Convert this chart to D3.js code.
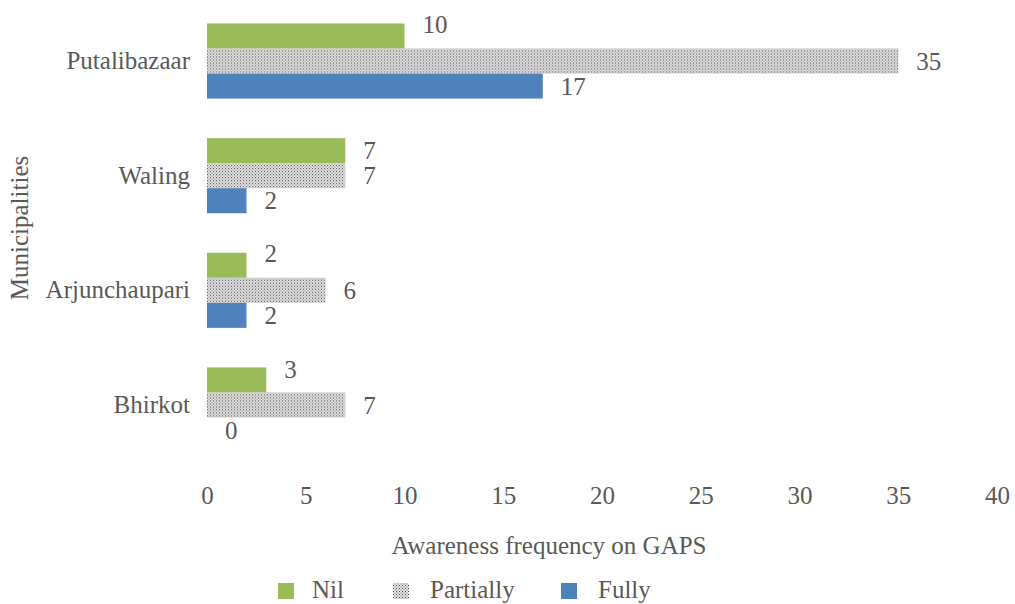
<!DOCTYPE html>
<html>
<head>
<meta charset="utf-8">
<script src="https://cdn.jsdelivr.net/npm/d3@7"></script>
<style>
  body { margin: 0; background: #fff; }
  svg { display: block; }
  svg text { font-family: 'Liberation Serif'; }
</style>
</head>
<body>
<svg id="chart" width="1015" height="604"></svg>
<script>
// Municipalities, top to bottom
const municipalities = ["Putalibazaar", "Waling", "Arjunchaupari", "Bhirkot"];
const seriesNames = ["Nil", "Partially", "Fully"];
const nilValues = [10, 7, 2, 3];
const partiallyValues = [35, 7, 6, 7];
const fullyValues = [17, 2, 2, 0];
const xTicks = [0, 5, 10, 15, 20, 25, 30, 35, 40];

const seriesValues = { Nil: nilValues, Partially: partiallyValues, Fully: fullyValues };
const textColor = "#595959";
const fontFamily = "Liberation Serif";
const fontSize = 25;

const svg = d3.select("#chart");
const defs = svg.append("defs");

// Fine dotted fill for the "Partially" series
const pat = defs.append("pattern")
  .attr("id", "dots")
  .attr("width", 3).attr("height", 3)
  .attr("patternUnits", "userSpaceOnUse");
pat.append("rect").attr("width", 3).attr("height", 3).attr("fill", "#e4e4e4");
pat.append("rect").attr("x", 0).attr("y", 0).attr("width", 1).attr("height", 1).attr("fill", "#4a4a4a");
pat.append("rect").attr("x", 1.5).attr("y", 1.5).attr("width", 1).attr("height", 1).attr("fill", "#6a6a6a");

const fills = { Nil: "#9BBB59", Partially: "url(#dots)", Fully: "#4F81BD" };

const x = d3.scaleLinear().domain([0, 40]).range([207, 997]);
const y = d3.scaleBand().domain(municipalities).range([4, 462]).paddingInner(0.345).paddingOuter(0.17);
const ySub = d3.scaleBand().domain(seriesNames).range([0, y.bandwidth()]);

function styleText(sel) {
  return sel.attr("font-family", fontFamily)
    .attr("font-size", fontSize)
    .attr("fill", textColor);
}

// Bars
municipalities.forEach((m, i) => {
  const g = svg.append("g").attr("transform", `translate(0,${y(m)})`);
  seriesNames.forEach(s => {
    const v = seriesValues[s][i];
    g.append("rect")
      .attr("x", x(0))
      .attr("y", ySub(s))
      .attr("width", x(v) - x(0))
      .attr("height", ySub.bandwidth())
      .attr("fill", fills[s]);
  });
});

// Value labels; the "Nil" labels sit raised above their bars except for Waling
const nilLift = { Putalibazaar: 12, Waling: 0, Arjunchaupari: 12, Bhirkot: 11 };
municipalities.forEach((m, i) => {
  seriesNames.forEach(s => {
    const v = seriesValues[s][i];
    let cy = y(m) + ySub(s) + ySub.bandwidth() / 2;
    if (s === "Nil") cy -= nilLift[m];
    svg.append("text")
      .attr("x", x(v) + 18)
      .attr("y", cy)
      .attr("dy", "0.35em")
      .call(styleText)
      .text(v);
  });
});

// Category axis (no line, no ticks)
const yAxis = svg.append("g")
  .attr("transform", `translate(${x(0)},0)`)
  .call(d3.axisLeft(y).tickSize(0).tickPadding(17));
yAxis.attr("font-family", fontFamily);
yAxis.select(".domain").remove();
yAxis.selectAll("text").call(styleText);

// Value axis (no line, no ticks)
const xAxis = svg.append("g")
  .attr("transform", `translate(0,486)`)
  .call(d3.axisBottom(x).tickValues(xTicks).tickSize(0).tickPadding(0));
xAxis.attr("font-family", fontFamily);
xAxis.select(".domain").remove();
xAxis.selectAll("text").call(styleText);

// Axis titles
svg.append("text")
  .attr("x", 549).attr("y", 554)
  .attr("text-anchor", "middle")
  .call(styleText)
  .text("Awareness frequency on GAPS");

svg.append("text")
  .attr("transform", "translate(28,228) rotate(-90)")
  .attr("text-anchor", "middle")
  .call(styleText)
  .text("Municipalities");

// Legend
const legendItems = [
  { name: "Nil", sx: 278, tx: 312 },
  { name: "Partially", sx: 393, tx: 430 },
  { name: "Fully", sx: 561, tx: 598 }
];
legendItems.forEach(d => {
  svg.append("rect")
    .attr("x", d.sx).attr("y", 583)
    .attr("width", 16).attr("height", 16)
    .attr("fill", fills[d.name]);
  svg.append("text")
    .attr("x", d.tx).attr("y", 598)
    .call(styleText)
    .text(d.name);
});
</script>
</body>
</html>
